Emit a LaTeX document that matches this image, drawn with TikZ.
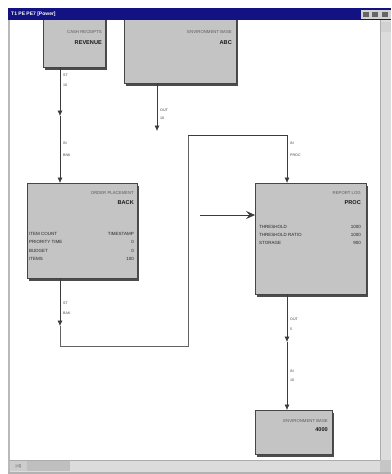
\documentclass[tikz,border=0pt]{standalone}
\usepackage{fontspec}
\setmainfont{Liberation Sans}
\usetikzlibrary{arrows.meta,positioning,shadows,calc}
\definecolor{boxgray}{RGB}{196,196,196}
\definecolor{titlenavy}{RGB}{18,18,130}
\definecolor{barface}{RGB}{220,220,220}
\definecolor{wire}{RGB}{60,60,60}

\begin{document}
\begin{tikzpicture}[x=1pt,y=-1pt,
  blk/.style={draw=gray!55!black, line width=0.4pt, fill=boxgray, anchor=north west, inner sep=0pt,
    drop shadow={shadow xshift=2pt, shadow yshift=-3pt, fill=black!70, opacity=1}},
  headline/.style={font=\fontsize{4.3}{4.3}\selectfont, text=black!65, inner sep=0pt, anchor=east},
  headbold/.style={font=\fontsize{5.6}{5.6}\selectfont\bfseries, text=black!90, inner sep=0pt, anchor=east},
  rowkey/.style={font=\fontsize{4.5}{4.5}\selectfont, text=black!85, inner sep=0pt, anchor=west},
  rowval/.style={font=\fontsize{4.5}{4.5}\selectfont, text=black!85, inner sep=0pt, anchor=east},
  tag/.style={font=\fontsize{3.6}{3.6}\selectfont, text=black!75, inner sep=0pt, anchor=west},
  flow/.style={draw=wire, line width=0.6pt, -{Latex[length=5.5pt,width=5pt]}},
  wireline/.style={draw=wire!80, line width=0.5pt},
  inflow/.style={draw=wire, line width=0.6pt, -{Stealth[length=9pt,width=8pt,inset=3.5pt]}}]
\useasboundingbox (0,0) rectangle (391,474);
\fill[white] (0,0) rectangle (391,474);

% blocks
\node[blk, minimum width=62pt, minimum height=50pt] (cash) at (43,17) {};
\node[blk, minimum width=112pt, minimum height=66pt] (env) at (124,17) {};
\node[blk, minimum width=110pt, minimum height=95pt] (order) at (27,183) {};
\node[blk, minimum width=111pt, minimum height=111pt] (report) at (255,183) {};
\node[blk, minimum width=77pt, minimum height=44pt] (sink) at (255,410) {};

% block texts
\node[headline] (cashA) at (102,32) {CASH RECEIPTS};
\node[headbold] (cashB) at (102,43) {REVENUE};
\node[headline] (envA) at (232,32) {ENVIRONMENT BASE};
\node[headbold] (envB) at (232,43) {ABC};
\node[headline] (orderA) at (134,193) {ORDER PLACEMENT};
\node[headbold] (orderB) at (134,203) {BACK};
\node[headline] (reportA) at (361,193) {REPORT LOG};
\node[headbold] (reportB) at (361,203) {PROC};
\node[headline] (sinkA) at (328,421) {ENVIRONMENT BASE};
\node[headbold] (sinkB) at (328,430) {4000};
\foreach \k/\v [count=\i] in {ITEM COUNT/TIMESTAMP, PRIORITY TIME/0, BUDGET/0, ITEMS/100} {
  \node[rowkey] (orderK\i) at (29,{225.5+8.4*\i}) {\k};
  \node[rowval] (orderV\i) at (134,{225.5+8.4*\i}) {\v};
}
\foreach \k/\v [count=\i] in {THRESHOLD/1000, THRESHOLD RATIO/1000, STORAGE/900} {
  \node[rowkey] (reportK\i) at (259,{219+8*\i}) {\k};
  \node[rowval] (reportV\i) at (361,{219+8*\i}) {\v};
}

% connectors
\coordinate (c1mid) at (60,116);
\coordinate (c2end) at (157,131);
\coordinate (c3mid) at (60,326);
\coordinate (c3low) at (60,346);
\coordinate (c3up) at (188,135);
\coordinate (c4mid) at (287,342);
\coordinate (feed) at (200,215);
\draw[flow] ([xshift=17pt]cash.south west) -- (c1mid);
\draw[flow] (c1mid) -- ([xshift=33pt]order.north west);
\draw[flow] ([xshift=33pt]env.south west) -- (c2end);
\draw[flow] ([xshift=33pt]order.south west) -- (c3mid);
\draw[wireline] (c3mid) -- (c3low) -| (c3up);
\draw[flow] (c3up) -| ([xshift=32pt]report.north west);
\draw[flow] ([xshift=32pt]report.south west) -- (c4mid);
\draw[flow] (c4mid) -- ([xshift=32pt]sink.north west);
\draw[inflow] (feed) -- (report.west |- feed);

% connector tags
\node[tag] (t1a) at (63,75) {ST};
\node[tag] (t1b) at (63,85) {10};
\node[tag] (t1c) at (63,143) {IN};
\node[tag] (t1d) at (63,155) {BNK};
\node[tag] (t2a) at (160,110) {OUT};
\node[tag] (t2b) at (160,118) {10};
\node[tag] (t3a) at (63,303) {ST};
\node[tag] (t3b) at (63,313) {BAK};
\node[tag] (t3c) at (290,143) {IN};
\node[tag] (t3d) at (290,155) {PROC};
\node[tag] (t4a) at (290,319) {OUT};
\node[tag] (t4b) at (290,329) {5};
\node[tag] (t4c) at (290,371) {IN};
\node[tag] (t4d) at (290,380) {10};

% window frame
\fill[gray!55] (8,8) rectangle (10,474);
\fill[titlenavy] (8,8) rectangle (391,20);
\node[font=\fontsize{5}{5}\selectfont\bfseries, text=white, inner sep=0pt, anchor=west] (title) at (11,14) {T1 PE PE7 [Power]};
\fill[gray!35] (361,10) rectangle (391,19);
\foreach \bx in {363,372,382} \fill[black!60] (\bx,12) rectangle ++(6,5);
\fill[barface] (380,20) rectangle (391,460);
\draw[gray!65] (380.5,20) -- (380.5,460);
\fill[gray!35] (381,22) rectangle (391,32);
\fill[barface] (10,460) rectangle (380,472);
\draw[gray!65] (10,460.5) -- (380,460.5);
\fill[gray!40] (10,461) rectangle (27,471);
\node[font=\fontsize{4}{4}\selectfont, text=black!70, inner sep=0pt] (firstbtn) at (18.5,466) {|{\(\triangleleft\)}|};
\fill[gray!50] (27,461) rectangle (70,471);
\fill[gray!45] (380,460) rectangle (391,474);
\fill[gray!60] (8,472) rectangle (391,474);
\end{tikzpicture}
\end{document}
